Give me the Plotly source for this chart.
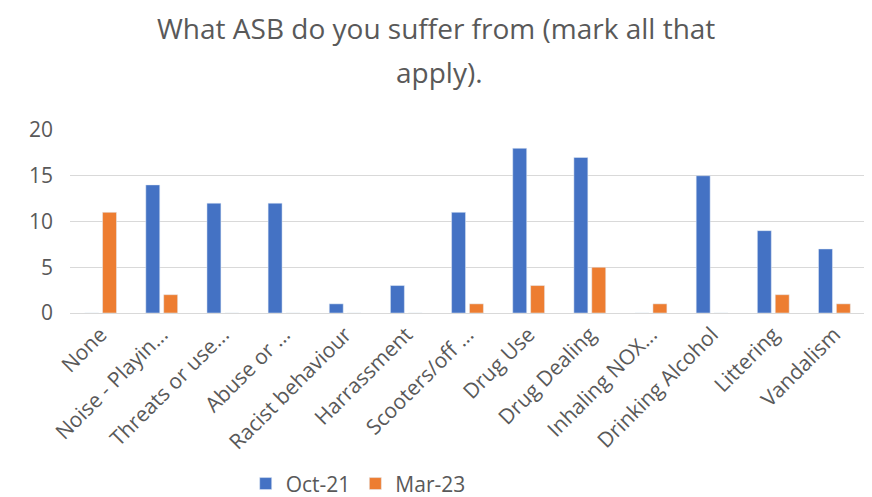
import plotly.graph_objects as go

categories = ["None", "Noise - Playin...", "Threats or use...", "Abuse or ...", "Racist behaviour",
              "Harrassment", "Scooters/off ...", "Drug Use", "Drug Dealing", "Inhaling NOX...",
              "Drinking Alcohol", "Littering", "Vandalism"]
oct21 = [0, 14, 12, 12, 1, 3, 11, 18, 17, 0, 15, 9, 7]
mar23 = [11, 2, 0, 0, 0, 0, 1, 3, 5, 1, 0, 2, 1]
title_lines = ["What ASB do you suffer from (mark all that", "apply)."]

font_family = "Open Sans, Liberation Sans, sans-serif"
grey = "#595959"

fig = go.Figure()
fig.add_trace(go.Bar(x=categories, y=oct21, name="Oct-21", marker_color="#4472C4"))
fig.add_trace(go.Bar(x=categories, y=mar23, name="Mar-23", marker_color="#ED7D31"))

for txt, xx, yy in zip(title_lines, [0.46, 0.465], [1.557, 1.317]):
    fig.add_annotation(text=txt, x=xx, xref="paper", y=yy, yref="paper",
                       xanchor="center", yanchor="middle", showarrow=False,
                       font=dict(family=font_family, size=28, color=grey))

fig.update_layout(
    width=864, height=489,
    paper_bgcolor="white", plot_bgcolor="white",
    barmode="group", bargap=0.415, bargroupgap=0.22,
    margin=dict(l=62, r=7, t=122, b=184, autoexpand=False),
    font=dict(family=font_family, color=grey),
    xaxis=dict(tickangle=-45, tickfont=dict(size=21, color=grey), showline=True,
               linecolor="#D9D9D9", linewidth=1, ticks=""),
    yaxis=dict(range=[0, 20], dtick=5, tickfont=dict(size=21, color=grey),
               gridcolor="#D9D9D9", gridwidth=1, zeroline=False, ticklabelstandoff=16),
    legend=dict(orientation="h", x=0.221, xanchor="left", y=-0.934, yanchor="middle",
                font=dict(size=21, color=grey), itemwidth=30),
)

fig.write_html("out.html")
